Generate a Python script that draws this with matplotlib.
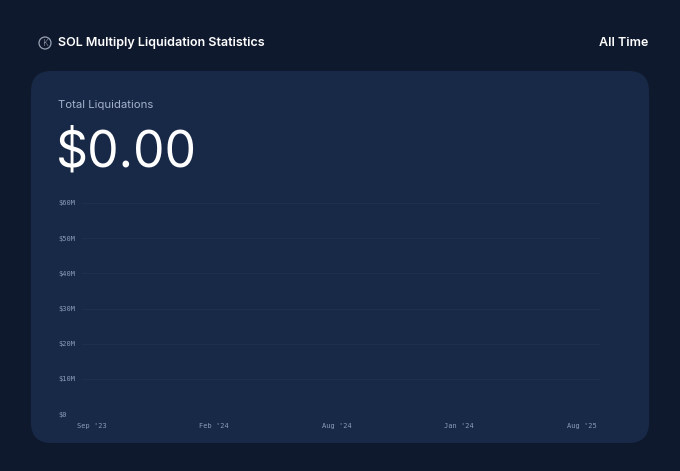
import matplotlib.pyplot as plt
from matplotlib.patches import FancyBboxPatch, Ellipse
import numpy as np

# data
months = ["Sep '23", "Feb '24", "Aug '24", "Jan '24", "Aug '25"]
liquidations = [0, 0, 0, 0, 0]
yticks = [0, 10e6, 20e6, 30e6, 40e6, 50e6, 60e6]
ytick_labels = ["$0", "$10M", "$20M", "$30M", "$40M", "$50M", "$60M"]
total = sum(liquidations)

W, H = 680, 471
bg = "#0f192d"
card = "#182947"
grid = "#1c2f4f"
muted = "#8a9bbb"

fig = plt.figure(figsize=(W / 100, H / 100), dpi=100, facecolor=bg)

# card behind everything
fig.patches.append(FancyBboxPatch(
    (31 / W, (H - 443) / H), (649 - 31) / W, (443 - 71) / H,
    boxstyle="round,pad=0,rounding_size=0.03",
    transform=fig.transFigure, fc=card, ec="none", mutation_aspect=W / H, zorder=-5))

# header
fig.patches.append(Ellipse((45 / W, (H - 43) / H), 12 / W, 12 / H,
                           transform=fig.transFigure, fc="none", ec="#9aa3b5", lw=0.9))
fig.text(45.5 / W, (H - 43) / H, "K", color="#c0c6d2", fontsize=6.5, ha="center", va="center",
         family="Inter", weight="light")
fig.text(58 / W, (H - 43) / H, "SOL Multiply Liquidation Statistics", color="white",
         fontsize=9, family="Inter", weight="semibold", va="center")
fig.text(648 / W, (H - 43) / H, "All Time", color="white",
         fontsize=9, family="Inter", weight="semibold", va="center", ha="right")

fig.text(58 / W, (H - 105) / H, "Total Liquidations", color="#a3b2cc",
         fontsize=8.2, family="Inter", va="center")
fig.text(56 / W, (H - 166) / H, f"${total:,.2f}", color="white",
         fontsize=36, family="Inter", weight="normal", va="baseline")

# chart
ax = fig.add_axes([82 / W, (H - 414) / H, (600 - 82) / W, (414 - 203) / H])
ax.set_facecolor("none")
x = np.arange(len(months))
ax.plot(x, liquidations, color=grid, lw=0.8)
ax.set_xlim(-0.08, 4.15)
ax.set_ylim(0, 60e6)
ax.set_yticks(yticks, ytick_labels)
ax.set_xticks(x, months)
ax.grid(axis="y", color=grid, lw=0.8)
for s in ax.spines.values():
    s.set_visible(False)
ax.tick_params(length=0, colors=muted, labelsize=5)
ax.tick_params(axis="y", pad=17)
ax.tick_params(axis="x", pad=6.5)
for lbl in ax.get_yticklabels():
    lbl.set_ha("left")
    lbl.set_family("DejaVu Sans Mono")
for lbl in ax.get_xticklabels():
    lbl.set_family("DejaVu Sans Mono")

fig.savefig("out.png", dpi=100, facecolor=bg)
